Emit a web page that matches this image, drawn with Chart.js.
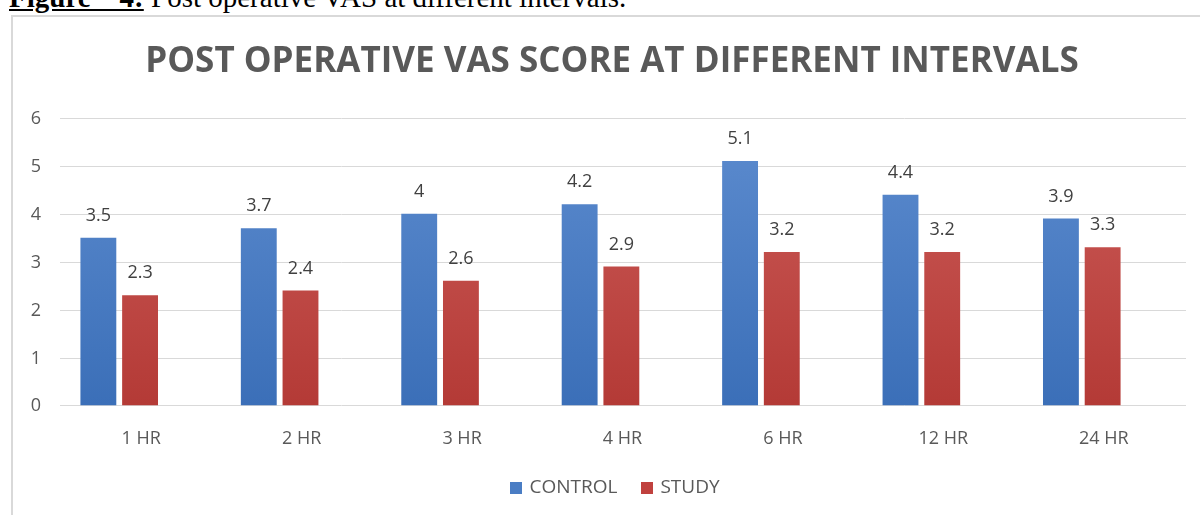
<!DOCTYPE html>
<html>
<head>
<meta charset="utf-8">
<script src="https://cdn.jsdelivr.net/npm/chart.js@4"></script>
<style>
  html, body { margin: 0; padding: 0; background: #fff; overflow: hidden; }
  body { width: 1200px; height: 515px; position: relative; }
  #caption {
    position: absolute; left: 9px; top: -19px;
    font-family: "Liberation Serif", serif; font-size: 29px; color: #000;
    white-space: nowrap;
  }
  #caption b { text-decoration: underline; }
  #box {
    position: absolute; left: 11px; top: 15px; width: 1220px; height: 510px;
    border: 2px solid #d9d9d9; box-sizing: border-box;
  }
  #title {
    position: absolute; left: 0; top: 41px; width: 1224px; text-align: center;
    font-family: "Open Sans", sans-serif; font-weight: bold; font-size: 35px;
    line-height: 35px; color: #595959; white-space: nowrap;
  }
  #legend {
    position: absolute; left: 0; top: 474px; width: 1230px; text-align: center;
    font-family: "Open Sans", sans-serif; font-size: 19px; line-height: 24px; color: #595959;
  }
  #legend span.item { margin: 0 12px; }
  #legend span.sw { display: inline-block; width: 12px; height: 12px; margin-right: 7px; vertical-align: -1px; }
  #wrap { position: absolute; left: 0; top: 0; width: 1173px; height: 498px; }
</style>
</head>
<body>
<div id="caption"><b>Figure&nbsp;&nbsp;&nbsp;&nbsp;4:</b> Post operative VAS at different intervals.</div>
<div id="box"><div id="wrap"><canvas id="vasChart"></canvas></div></div>
<div id="title">POST OPERATIVE VAS SCORE AT DIFFERENT INTERVALS</div>
<div id="legend"></div>
<script>
const intervals = ['1 HR', '2 HR', '3 HR', '4 HR', '6 HR', '12 HR', '24 HR'];
const controlScores = [3.5, 3.7, 4, 4.2, 5.1, 4.4, 3.9];
const studyScores = [2.3, 2.4, 2.6, 2.9, 3.2, 3.2, 3.3];
const yTicks = [0, 1, 2, 3, 4, 5, 6];
const legendColors = ['#4a7dc4', '#c0413e'];

// vertical gradient, lighter at the top like the Excel bars
function barFill(top, bottom) {
    return (ctx) => {
        const area = ctx.chart.chartArea;
        if (!area) return bottom;
        const g = ctx.chart.ctx.createLinearGradient(0, area.top, 0, area.bottom);
        g.addColorStop(0, top);
        g.addColorStop(1, bottom);
        return g;
    };
}

// y gridlines and tick labels, laid out like the Excel original
// (gridlines run wider than the bar area)
const yAxisLook = {
    id: 'yAxisLook',
    beforeDatasetsDraw(chart) {
        const c = chart.ctx;
        const y = chart.scales.y;
        c.save();
        c.strokeStyle = '#d9d9d9';
        c.lineWidth = 1;
        c.font = '18px "Open Sans", sans-serif';
        c.fillStyle = '#595959';
        c.textAlign = 'right';
        c.textBaseline = 'middle';
        yTicks.forEach(v => {
            const py = Math.round(y.getPixelForValue(v)) + 0.5;
            c.beginPath();
            c.moveTo(47, py);
            c.lineTo(chart.width, py);
            c.stroke();
            c.fillText(String(v), 28, py);
        });
        c.restore();
    }
};

// value labels above each bar
const valueLabels = {
    id: 'valueLabels',
    afterDatasetsDraw(chart) {
        const c = chart.ctx;
        c.save();
        c.font = '18px "Open Sans", sans-serif';
        c.fillStyle = '#404040';
        c.textAlign = 'center';
        c.textBaseline = 'bottom';
        chart.data.datasets.forEach((ds, i) => {
            chart.getDatasetMeta(i).data.forEach((bar, j) => {
                c.fillText(String(ds.data[j]), bar.x, bar.y - 13);
            });
        });
        c.restore();
    }
};

const chart = new Chart(document.getElementById('vasChart'), {
    type: 'bar',
    data: {
        labels: intervals,
        datasets: [{
            label: 'CONTROL',
            data: controlScores,
            backgroundColor: barFill('#5d8ccf', '#3b6fb8'),
            borderWidth: 0
        }, {
            label: 'STUDY',
            data: studyScores,
            backgroundColor: barFill('#cd5d5a', '#b43a36'),
            borderWidth: 0
        }]
    },
    options: {
        responsive: true,
        maintainAspectRatio: false,
        animation: false,
        datasets: {
            bar: { categoryPercentage: 0.52, barPercentage: 0.86 }
        },
        layout: { padding: { left: 26, right: 24, top: 101, bottom: 50 } },
        scales: {
            y: {
                display: false,
                min: 0, max: 6
            },
            x: {
                ticks: { color: '#595959', padding: 15, labelOffset: 22, font: { family: 'Open Sans', size: 18 } },
                grid: { display: false },
                border: { display: false }
            }
        },
        plugins: {
            legend: { display: false },
            tooltip: { enabled: false }
        }
    },
    plugins: [yAxisLook, valueLabels]
});

// legend below the plot, built from the datasets
document.getElementById('legend').innerHTML = chart.data.datasets.map((ds, i) =>
    '<span class="item"><span class="sw" style="background:' + legendColors[i] + '"></span>' + ds.label + '</span>'
).join('');
</script>
</body>
</html>
